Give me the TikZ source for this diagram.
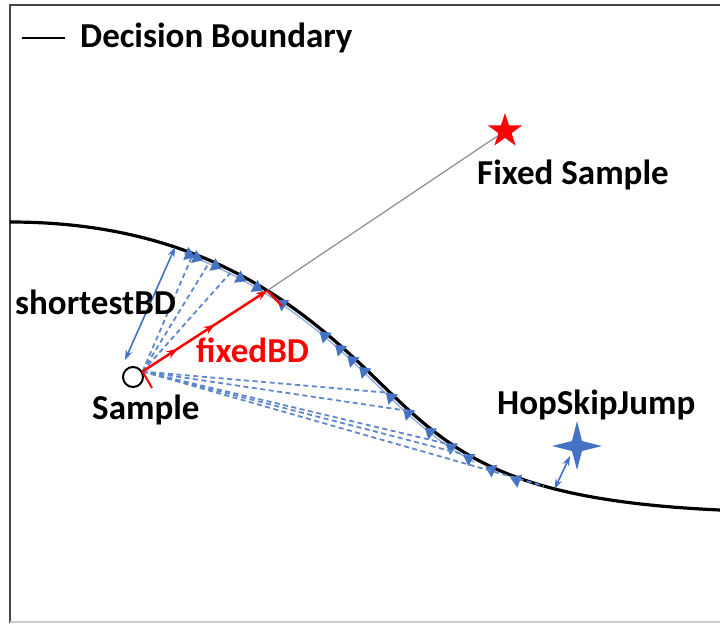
\documentclass[tikz,border=0pt]{standalone}
\usepackage{fontspec}
\setmainfont{Carlito}
\usetikzlibrary{arrows.meta,decorations.markings,shapes.geometric}
\definecolor{msblue}{RGB}{68,114,196}
\definecolor{frameg}{RGB}{70,70,70}
\begin{document}
\begin{tikzpicture}[x=1pt,y=-1pt,
  lbl/.style={font=\fontsize{35}{40}\selectfont\bfseries, inner sep=0pt, anchor=west},
  bnd/.style={line width=3.2pt, black},
  dashblue/.style={msblue!85, line width=1.8pt, dash pattern=on 5pt off 3.5pt, shorten >=3pt},
  blarrow/.style={msblue, line width=1.6pt, {Stealth[length=10pt,width=7pt]}-{Stealth[length=10pt,width=7pt]}},
  fa/.style={isosceles triangle, isosceles triangle apex angle=70, fill=msblue, inner sep=0pt,
    minimum size=10pt, sloped, anchor=center},
  ba/.style={fa, shape border rotate=180},
]
\useasboundingbox (0,0) rectangle (720,624);
% frame
\draw[line width=2.8pt, frameg] (10,623) -- (10,5) -- (720,5);
\draw[line width=2pt, black!20] (10,622) -- (720,622);
% light blue trace alongside the boundary (search path)
\draw[msblue!55, line width=1.5pt, transform canvas={xshift=-2.5pt,yshift=-2.5pt},
  dash pattern=on 0pt off 180pt on 360pt off 2000pt]
  (10,222) .. controls (200,222) and (300,305) .. (375,378)
  .. controls (450,451) and (500,500) .. (720,510);
% decision boundary with named points
\draw[bnd]
  (10,222) .. controls (200,222) and (300,305) .. (375,378)
    coordinate[pos=0.34] (sbd) coordinate[pos=0.385] (u1)
    coordinate[pos=0.43] (u2) coordinate[pos=0.49] (u3)
    coordinate[pos=0.595] (fbd)
  .. controls (450,451) and (500,500) .. (720,510)
    coordinate[pos=0.07] (l1) coordinate[pos=0.16] (l2)
    coordinate[pos=0.35] (l3) coordinate[pos=0.42] (l4)
    coordinate[pos=0.66] (l5) coordinate[pos=0.68] (hsj);
% blue search arrows along the boundary
\path[transform canvas={xshift=-2pt,yshift=-2pt}]
  (10,222) .. controls (200,222) and (300,305) .. (375,378)
    node[fa,pos=0.38]{} node[fa,pos=0.40]{} node[fa,pos=0.45]{}
    node[fa,pos=0.52]{} node[fa,pos=0.57]{}
    node[ba,pos=0.65]{} node[ba,pos=0.80]{} node[ba,pos=0.86]{}
    node[ba,pos=0.91]{} node[ba,pos=0.96]{}
  .. controls (450,451) and (500,500) .. (720,510)
    node[ba,pos=0.08]{} node[ba,pos=0.16]{} node[ba,pos=0.26]{}
    node[ba,pos=0.35]{} node[ba,pos=0.42]{} node[ba,pos=0.50]{}
    node[ba,pos=0.58]{};
% legend
\coordinate (lg1) at (22,38);
\coordinate (lg2) at (65,38);
\draw[line width=2.2pt] (lg1) -- (lg2);
\node[lbl] (tdb) at (80,38) {Decision Boundary};
% sample
\node[circle, draw, line width=2pt, fill=white, minimum size=20pt, inner sep=0pt] (smp) at (133,377) {};
\coordinate (so) at (smp.30);
\coordinate (sa) at (125,360);
% fans
\foreach \t in {u1,u2,u3,l1,l2,l3,l4,l5}{\draw[dashblue] (so) -- (\t);}
\draw[blarrow] (sa) -- (sbd);
% fixed sample
\node[star, star points=5, star point ratio=2.6, fill=red, minimum size=36pt, inner sep=0pt] (fs) at (505,131) {};
\draw[black!45, line width=1.2pt] (fbd) -- (fs);
% red fixedBD arrow
\draw[red, line width=2.5pt, -{Stealth[length=11pt,width=8pt]},
  decoration={markings,
    mark=at position 0.28 with {\arrow{Stealth[length=11pt,width=8pt]}},
    mark=at position 0.58 with {\arrow{Stealth[length=11pt,width=8pt]}}},
  postaction={decorate}] (so) -- (fbd);
\coordinate (rt1) at (152,388);
\coordinate (fbdt) at (282,306);
\draw[red, line width=2pt] (so) -- (rt1);
\draw[red, line width=2.2pt] (fbd) -- (fbdt);
% HopSkipJump star
\coordinate (bstar) at (577,446);
\coordinate (bsa) at (570,456);
\draw[blarrow] (hsj) -- (bsa);
\fill[msblue] (602,446) -- (582,451) -- (577,470) -- (572,451) -- (552,446)
  -- (572,441) -- (577,421) -- (582,441) -- cycle;
% labels
\node[lbl] (tsb) at (15,302) {shortestBD};
\node[lbl] (tsm) at (92,410) {Sample};
\node[lbl, text=red] (tfb) at (196,350) {fixedBD};
\node[lbl] (tfs) at (477,175) {Fixed Sample};
\node[lbl] (thj) at (497,405) {HopSkipJump};
\end{tikzpicture}
\end{document}
